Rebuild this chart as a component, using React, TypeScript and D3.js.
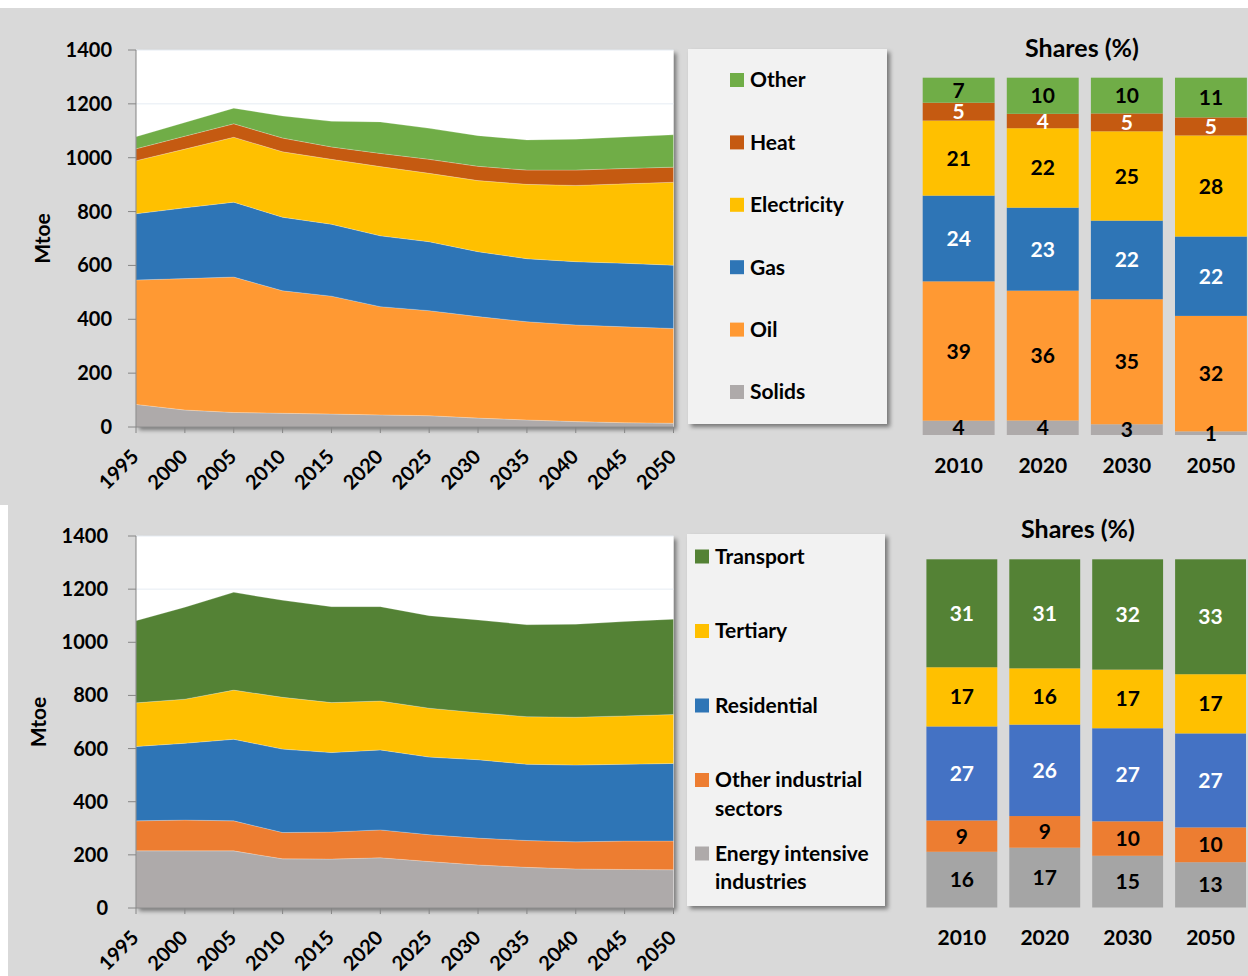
import React from "react";
import * as d3 from "d3";

// ---------- DATA ----------
const years = [1995, 2000, 2005, 2010, 2015, 2020, 2025, 2030, 2035, 2040, 2045, 2050];
const yTicks = [0, 200, 400, 600, 800, 1000, 1200, 1400];

// Final energy demand by fuel (Mtoe)
const solids = [84, 63, 54, 51, 48, 45, 42, 33, 26, 20, 16, 14];
const oil = [462, 488, 503, 455, 438, 402, 390, 377, 365, 359, 356, 352];
const gas = [246, 263, 278, 273, 267, 263, 256, 241, 234, 235, 236, 235];
const electricity = [197, 218, 241, 243, 241, 257, 254, 264, 276, 283, 295, 308];
const heat = [44, 48, 50, 51, 46, 49, 52, 53, 53, 57, 57, 56];
const otherFuels = [45, 51, 58, 82, 95, 117, 115, 114, 112, 115, 117, 120];
const fuelNames = ["Solids", "Oil", "Gas", "Electricity", "Heat", "Other"];

// Final energy demand by sector (Mtoe)
const energyIntensive = [215, 215, 215, 185, 184, 189, 175, 162, 153, 147, 145, 144];
const otherIndustrial = [113, 116, 113, 99, 102, 105, 101, 101, 101, 102, 107, 108];
const residential = [280, 289, 307, 314, 299, 301, 292, 295, 287, 289, 289, 292];
const tertiary = [164, 166, 185, 195, 188, 184, 184, 177, 179, 180, 182, 184];
const transport = [309, 346, 368, 365, 361, 355, 348, 349, 346, 350, 355, 359];
const sectorNames = ["Energy intensive industries", "Other industrial sectors", "Residential", "Tertiary", "Transport"];
const sectorLegendLines = [["Energy intensive", "industries"], ["Other industrial", "sectors"], ["Residential"], ["Tertiary"], ["Transport"]];

// Shares (%)
const shareYears = ["2010", "2020", "2030", "2050"];
const shareSolids = [4, 4, 3, 1];
const shareOil = [39, 36, 35, 32];
const shareGas = [24, 23, 22, 22];
const shareElectricity = [21, 22, 25, 28];
const shareHeat = [5, 4, 5, 5];
const shareOther = [7, 10, 10, 11];

const shareEnergyIntensive = [16, 17, 15, 13];
const shareOtherIndustrial = [9, 9, 10, 10];
const shareResidential = [27, 26, 27, 27];
const shareTertiary = [17, 16, 17, 17];
const shareTransport = [31, 31, 32, 33];

// ---------- STYLES ----------
const fuelColors = ["#AEAAAA", "#FF9933", "#2E75B6", "#FFC000", "#C55A11", "#70AD47"];
const fuelLabelColors = ["#000", "#000", "#fff", "#000", "#fff", "#000"];
const sectorAreaColors = ["#AEAAAA", "#ED7D31", "#2E75B6", "#FFC000", "#548235"];
const sectorBarColors = ["#A5A5A5", "#ED7D31", "#4472C4", "#FFC000", "#548235"];
const sectorLabelColors = ["#000", "#000", "#fff", "#000", "#fff"];

const FONT = "Lato, 'Open Sans', sans-serif";
const AXIS = "#868686";

const fuelSeries = [solids, oil, gas, electricity, heat, otherFuels];
const sectorSeries = [energyIntensive, otherIndustrial, residential, tertiary, transport];
const fuelShares = [shareSolids, shareOil, shareGas, shareElectricity, shareHeat, shareOther];
const sectorShares = [shareEnergyIntensive, shareOtherIndustrial, shareResidential, shareTertiary, shareTransport];

type AreaProps = {
  id: string;
  top: number;
  bottom: number;
  names: string[];
  series: number[][];
  colors: string[];
  labelRight: number;
  titleX: number;
};

function AreaPanel({ id, top, bottom, names, series, colors, labelRight, titleX }: AreaProps) {
  const left = 136;
  const right = 673.5;
  const x = d3.scaleLinear().domain([1995, 2050]).range([left, right]);
  const y = d3.scaleLinear().domain([0, 1400]).range([bottom, top]);
  const rows = years.map((yr, i) => {
    const r: any = { year: yr };
    names.forEach((n, k) => (r[n] = series[k][i]));
    return r;
  });
  const stacked = d3.stack<any>().keys(names)(rows);
  const area = d3
    .area<any>()
    .x((d) => x(d.data.year))
    .y0((d) => y(d[0]))
    .y1((d) => y(d[1]));
  return (
    <g>
      <rect x={left} y={top} width={right - left} height={bottom - top} fill="#fff" filter="url(#shadow)" />
      {yTicks.slice(1).map((t) => (
        <line key={t} x1={left} x2={right} y1={y(t)} y2={y(t)} stroke="#E6ECF3" strokeWidth={1} />
      ))}
      {stacked.map((s, k) => (
        <path key={id + s.key} d={area(s) || ""} fill={colors[k]} stroke="#ffffff" strokeOpacity={0.35} strokeWidth={0.6} />
      ))}
      <line x1={left} x2={left} y1={top} y2={bottom} stroke={AXIS} />
      <line x1={left} x2={right} y1={bottom} y2={bottom} stroke={AXIS} />
      {yTicks.map((t) => (
        <g key={t}>
          <line x1={left - 8} x2={left} y1={y(t)} y2={y(t)} stroke={AXIS} />
          <text x={labelRight} y={y(t)} dy="0.35em" textAnchor="end" fontSize={20} fontWeight={700} fontFamily={FONT} fill="#000">
            {t}
          </text>
        </g>
      ))}
      {years.map((yr) => (
        <g key={yr}>
          <line x1={x(yr)} x2={x(yr)} y1={bottom} y2={bottom + 6} stroke={AXIS} />
          <text
            transform={`translate(${x(yr) + 4},${bottom + 31}) rotate(-45)`}
            textAnchor="end"
            fontSize={20}
            fontWeight={700}
            fontFamily={FONT}
            fill="#000"
          >
            {yr}
          </text>
        </g>
      ))}
      <text
        transform={`translate(${titleX},${(top + bottom) / 2}) rotate(-90)`}
        textAnchor="middle"
        dy="0.35em"
        fontSize={21}
        fontWeight={700}
        fontFamily={FONT}
        fill="#000"
      >
        Mtoe
      </text>
    </g>
  );
}

type BarProps = {
  top: number;
  bottom: number;
  rangeLeft: number;
  rangeRight: number;
  axisLeft: number;
  shares: number[][];
  colors: string[];
  labelColors: string[];
  titleX: number;
  titleY: number;
  yearY: number;
};

function SharePanel({ top, bottom, rangeLeft, rangeRight, axisLeft, shares, colors, labelColors, titleX, titleY, yearY }: BarProps) {
  const xb = d3.scaleBand<string>().domain(shareYears).range([rangeLeft, rangeRight]).paddingInner(0.145).paddingOuter(0.0725);
  const yb = d3.scaleLinear().domain([0, 1]).range([bottom, top]);
  const keys = shares.map((_, k) => "s" + k);
  const rows = shareYears.map((yr, i) => {
    const r: any = { year: yr };
    keys.forEach((kk, k) => (r[kk] = shares[k][i]));
    return r;
  });
  const stacked = d3.stack<any>().keys(keys).offset(d3.stackOffsetExpand)(rows);
  return (
    <g>
      <text x={titleX} y={titleY} dy="0.35em" textAnchor="middle" fontSize={25} fontWeight={700} fontFamily={FONT} fill="#000">
        Shares (%)
      </text>
      <line x1={axisLeft} x2={1248} y1={bottom} y2={bottom} stroke={AXIS} strokeWidth={1.5} filter="url(#shadow)" />
      {stacked.map((s, k) => (
        <g key={s.key}>
          {s.map((d, i) => (
            <rect
              key={i}
              x={xb(d.data.year)}
              width={xb.bandwidth()}
              y={yb(d[1])}
              height={yb(d[0]) - yb(d[1])}
              fill={colors[k]}
            />
          ))}
        </g>
      ))}
      {stacked.map((s, k) => (
        <g key={"l" + s.key}>
          {s.map((d, i) => (
            <text
              key={i}
              x={(xb(d.data.year) || 0) + xb.bandwidth() / 2}
              y={(yb(d[0]) + yb(d[1])) / 2}
              dy="0.36em"
              textAnchor="middle"
              fontSize={21}
              fontWeight={700}
              fontFamily={FONT}
              fill={labelColors[k]}
            >
              {shares[k][i]}
            </text>
          ))}
        </g>
      ))}
      {shareYears.map((yr) => (
        <text
          key={yr}
          x={(xb(yr) || 0) + xb.bandwidth() / 2}
          y={yearY}
          dy="0.35em"
          textAnchor="middle"
          fontSize={21}
          fontWeight={700}
          fontFamily={FONT}
          fill="#000"
        >
          {yr}
        </text>
      ))}
    </g>
  );
}

export default function App() {
  // legends listed top to bottom (reverse of stacking order)
  const fuelLegend = fuelNames.map((n, k) => ({ n, c: fuelColors[k] })).reverse();
  const sectorLegend = sectorLegendLines.map((lines, k) => ({ lines, c: sectorAreaColors[k] })).reverse();
  const fuelLegendY = d3.scalePoint<string>().domain(fuelLegend.map((d) => d.n)).range([80, 392]);
  const sectorLegendTop = [556.5, 631, 705.5, 780, 853.5];
  return (
    <svg width={1248} height={976} style={{ position: "absolute", left: 0, top: 0, display: "block" }}>
      <defs>
        <filter id="shadow" x="-10%" y="-10%" width="130%" height="140%">
          <feDropShadow dx={3} dy={3} stdDeviation={2.2} floodColor="#000" floodOpacity={0.45} />
        </filter>
      </defs>
      <rect x={0} y={0} width={1248} height={976} fill="#ffffff" />
      <rect x={0} y={8} width={1248} height={497} fill="#D9D9D9" />
      <rect x={8} y={505} width={1240} height={471} fill="#D9D9D9" />

      <AreaPanel
        id="fuel"
        top={50}
        bottom={427}
        names={fuelNames}
        series={fuelSeries}
        colors={fuelColors}
        labelRight={112}
        titleX={43}
      />
      <AreaPanel
        id="sector"
        top={536}
        bottom={908}
        names={sectorNames}
        series={sectorSeries}
        colors={sectorAreaColors}
        labelRight={108}
        titleX={39}
      />

      {/* Fuel legend */}
      <rect x={688} y={49} width={199} height={375} fill="#F2F2F2" filter="url(#shadow)" />
      {fuelLegend.map((d) => (
        <g key={d.n}>
          <rect x={730} y={(fuelLegendY(d.n) || 0) - 7} width={14} height={14} fill={d.c} />
          <text x={750} y={fuelLegendY(d.n)} dy="0.35em" fontSize={21} fontWeight={700} fontFamily={FONT} fill="#000">
            {d.n}
          </text>
        </g>
      ))}

      {/* Sector legend */}
      <rect x={687} y={534} width={198} height={372} fill="#F2F2F2" filter="url(#shadow)" />
      {sectorLegend.map((d, i) => (
        <g key={d.lines.join(" ")}>
          <rect x={695} y={sectorLegendTop[i] - 7} width={14} height={14} fill={d.c} />
          {d.lines.map((ln, j) => (
            <text key={j} x={715} y={sectorLegendTop[i] + j * 28.5} dy="0.35em" fontSize={21} fontWeight={700} fontFamily={FONT} fill="#000">
              {ln}
            </text>
          ))}
        </g>
      ))}

      <SharePanel
        top={77.7}
        bottom={435}
        rangeLeft={916.6}
        rangeRight={1253}
        axisLeft={917}
        shares={fuelShares}
        colors={fuelColors}
        labelColors={fuelLabelColors}
        titleX={1082}
        titleY={48}
        yearY={466}
      />
      <SharePanel
        top={559.3}
        bottom={907.5}
        rangeLeft={920.4}
        rangeRight={1252}
        axisLeft={920}
        shares={sectorShares}
        colors={sectorBarColors}
        labelColors={sectorLabelColors}
        titleX={1078}
        titleY={529}
        yearY={938}
      />
    </svg>
  );
}
